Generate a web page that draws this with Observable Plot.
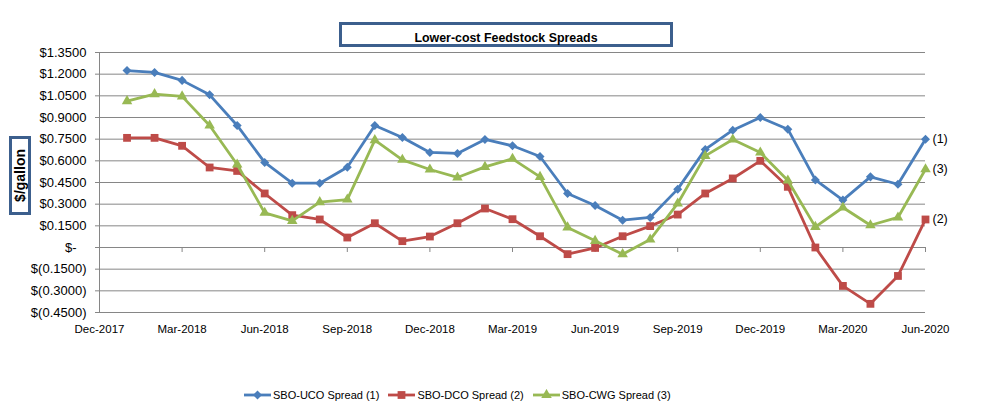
<!DOCTYPE html>
<html>
<head>
<meta charset="utf-8">
<script src="https://cdn.jsdelivr.net/npm/d3@7"></script>
<script src="https://cdn.jsdelivr.net/npm/@observablehq/plot@0.6"></script>
<style>
  body { margin: 0; background: #fff; font-family: "Liberation Sans", Arial, sans-serif; }
  #wrap { position: relative; width: 997px; height: 419px; overflow: hidden; background: #fff; }
  #chart { position: absolute; left: 0; top: 0; }
  #title { position: absolute; left: 339px; top: 22px; width: 328px; height: 19px; border: 3px solid #3C5F8D;
           font-weight: bold; font-size: 12.4px; text-align: center; line-height: 26px; color: #000; }
  #ylab { position: absolute; left: 9px; top: 136px; width: 16px; height: 73px; border: 3px solid #3C5F8D;
          display: flex; align-items: center; justify-content: center; }
  #ylab span { writing-mode: vertical-rl; transform: rotate(180deg); font-weight: bold; font-size: 14px; white-space: nowrap; }
  #legend { position: absolute; left: 244px; top: 389px; display: flex; align-items: center; gap: 9px; font-size: 11px; }
  .item { display: flex; align-items: center; }
  .item svg { display: block; }
</style>
</head>
<body>
<div id="wrap">
  <div id="chart"></div>
  <div id="title">Lower-cost Feedstock Spreads</div>
  <div id="ylab"><span>$/gallon</span></div>
  <div id="legend"></div>
</div>
<script>
// Months: Jan-2018 .. Jun-2020 (index 1..30, Dec-2017 = 0)
const months = ["Jan-2018","Feb-2018","Mar-2018","Apr-2018","May-2018","Jun-2018","Jul-2018","Aug-2018","Sep-2018","Oct-2018","Nov-2018","Dec-2018",
                "Jan-2019","Feb-2019","Mar-2019","Apr-2019","May-2019","Jun-2019","Jul-2019","Aug-2019","Sep-2019","Oct-2019","Nov-2019","Dec-2019",
                "Jan-2020","Feb-2020","Mar-2020","Apr-2020","May-2020","Jun-2020"];

const ucoSpread = [1.225, 1.212, 1.157, 1.057, 0.845, 0.589, 0.445, 0.445, 0.556, 0.845, 0.762, 0.658,
                   0.651, 0.748, 0.704, 0.630, 0.374, 0.291, 0.189, 0.208, 0.404, 0.679, 0.812, 0.900,
                   0.819, 0.468, 0.328, 0.489, 0.438, 0.750];
const dcoSpread = [0.759, 0.759, 0.704, 0.554, 0.530, 0.374, 0.224, 0.194, 0.069, 0.168, 0.044, 0.076,
                   0.168, 0.270, 0.196, 0.078, -0.046, -0.003, 0.078, 0.148, 0.228, 0.374, 0.478, 0.600,
                   0.420, 0.000, -0.266, -0.390, -0.197, 0.194];
const cwgSpread = [1.013, 1.062, 1.046, 0.845, 0.575, 0.240, 0.184, 0.314, 0.332, 0.743, 0.607, 0.540,
                   0.485, 0.558, 0.614, 0.489, 0.139, 0.046, -0.046, 0.055, 0.305, 0.634, 0.748, 0.658,
                   0.464, 0.143, 0.277, 0.154, 0.208, 0.542];

const xTickLabels = ["Dec-2017","Mar-2018","Jun-2018","Sep-2018","Dec-2018","Mar-2019","Jun-2019","Sep-2019","Dec-2019","Mar-2020","Jun-2020"];
const xTickPositions = [0, 3, 6, 9, 12, 15, 18, 21, 24, 27, 30];
const yTicks = [-0.45, -0.30, -0.15, 0, 0.15, 0.30, 0.45, 0.60, 0.75, 0.90, 1.05, 1.20, 1.35];

const seriesNames = ["SBO-UCO Spread (1)", "SBO-DCO Spread (2)", "SBO-CWG Spread (3)"];
const seriesValues = [ucoSpread, dcoSpread, cwgSpread];
const seriesColors = ["#4A7EBB", "#BE4B48", "#98B954"];
const seriesRadius = [3.6, 4.4, 3.9];
const endLabels = ["(1)", "(2)", "(3)"];

// square-ish diamond (rotated square), like Excel's marker
const squareDiamond = {
  draw(context, size) {
    const r = Math.sqrt(size / 2);
    context.moveTo(0, -r); context.lineTo(r, 0); context.lineTo(0, r); context.lineTo(-r, 0); context.closePath();
  }
};
const seriesSymbols = [squareDiamond, d3.symbolSquare, d3.symbolTriangle];

const rows = [];
seriesNames.forEach((s, k) => seriesValues[k].forEach((v, i) => rows.push({series: s, idx: i + 1, month: months[i], value: v})));
const lastRows = seriesNames.map((s, k) => ({series: s, idx: months.length, value: seriesValues[k][months.length - 1], label: endLabels[k]}));

const fmtY = v => {
  if (Math.abs(v) < 1e-9) return "$-\u00a0\u00a0\u2009";
  return v < 0 ? `$(${(-v).toFixed(4)})` : `$${v.toFixed(4)}`;
};

const seriesMarks = [];
seriesNames.forEach((s, k) => {
  const data = rows.filter(d => d.series === s);
  seriesMarks.push(Plot.line(data, {x: "idx", y: "value", stroke: seriesColors[k], strokeWidth: 2.8, strokeLinejoin: "round"}));
  seriesMarks.push(Plot.dot(data, {x: "idx", y: "value", fill: seriesColors[k], stroke: "none", symbol: seriesSymbols[k], r: seriesRadius[k]}));
});

const chart = Plot.plot({
  width: 997,
  height: 419,
  marginTop: 52,
  marginBottom: 107,
  marginLeft: 99,
  marginRight: 72,
  x: {domain: [0, 30]},
  y: {domain: [-0.45, 1.35]},
  style: {fontFamily: '"Liberation Sans", Arial, sans-serif', fontSize: "13px", color: "#000", background: "transparent", overflow: "visible"},
  marks: [
    Plot.gridY(yTicks, {stroke: "#868686", strokeOpacity: 1, strokeWidth: 1}),
    Plot.ruleX([0], {stroke: "#868686", strokeWidth: 1}),
    Plot.ruleX(xTickPositions, {y1: 0, y2: 0, insetBottom: -5, stroke: "#868686"}),
    Plot.axisY(yTicks, {tickSize: 4, tickPadding: 9, tickFormat: fmtY, stroke: "#868686", fill: "#000", fontSize: 13, label: null}),
    Plot.axisX(xTickPositions, {tickSize: 0, tickPadding: 12, tickFormat: d => xTickLabels[xTickPositions.indexOf(d)], fill: "#000", fontSize: 11.5, label: null}),
    ...seriesMarks,
    Plot.text(lastRows, {x: "idx", y: "value", text: "label", dx: 7, textAnchor: "start", fontSize: 12.5, fill: "#000"})
  ]
});
document.getElementById("chart").appendChild(chart);

// Legend
const legend = document.getElementById("legend");
seriesNames.forEach((s, k) => {
  const item = document.createElement("div");
  item.className = "item";
  const sym = d3.symbol(seriesSymbols[k], Math.PI * seriesRadius[k] * seriesRadius[k])();
  item.innerHTML = `<svg width="27" height="12"><line x1="0" y1="6" x2="27" y2="6" stroke="${seriesColors[k]}" stroke-width="2.8"/><path d="${sym}" transform="translate(13.5,6)" fill="${seriesColors[k]}"/></svg><span style="margin-left:2px">${s}</span>`;
  legend.appendChild(item);
});
</script>
</body>
</html>
